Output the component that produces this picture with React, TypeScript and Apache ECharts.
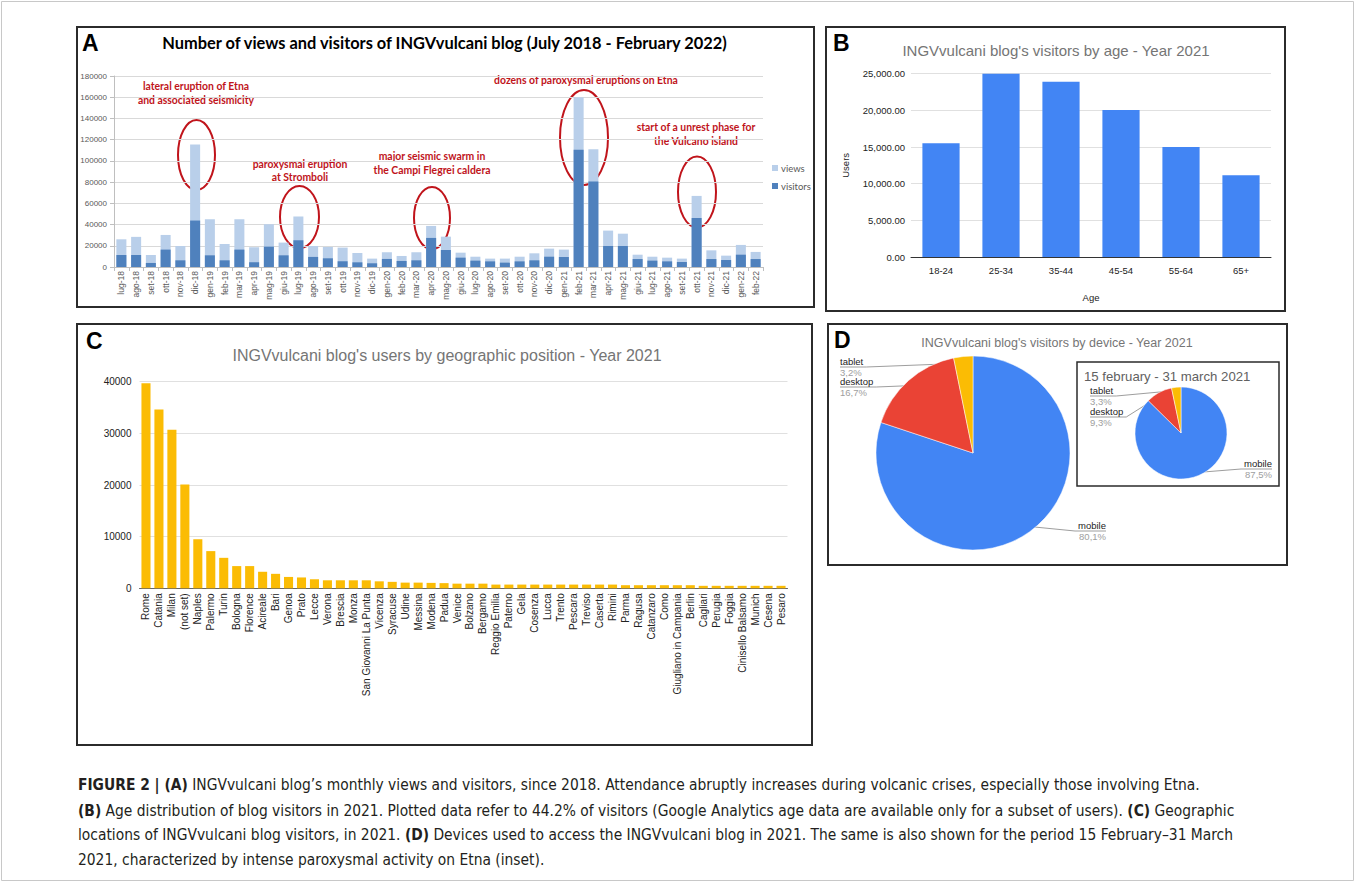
import React, { useEffect, useRef } from "react";
import * as echarts from "echarts";

// ---------- Panel A data ----------
const months = ["lug-18","ago-18","set-18","ott-18","nov-18","dic-18","gen-19","feb-19","mar-19","apr-19","mag-19","giu-19","lug-19","ago-19","set-19","ott-19","nov-19","dic-19","gen-20","feb-20","mar-20","apr-20","mag-20","giu-20","lug-20","ago-20","set-20","ott-20","nov-20","dic-20","gen-21","feb-21","mar-21","apr-21","mag-21","giu-21","lug-21","ago-21","set-21","ott-21","nov-21","dic-21","gen-22","feb-22"];
const views = [26100,28400,11300,30200,19800,115500,45000,21700,45000,18600,40300,23000,47600,19800,18900,18300,13200,7900,13900,10400,13900,38700,28600,13500,9700,7900,7900,9700,12900,17300,16400,160000,111000,34300,31400,11600,9700,8800,7900,67000,15700,10700,20800,14200];
const visitors = [11300,11300,3800,16400,6300,43800,11000,6300,16400,4400,19200,11000,25200,9500,8200,5400,4400,3500,7600,5700,6300,27400,16000,8800,6000,5300,4100,5300,6300,9700,9400,110400,80500,19800,19800,7500,6000,5300,4700,46200,7500,6600,11600,7500];

// ---------- Panel B data ----------
const ageGroups = ["18-24","25-34","35-44","45-54","55-64","65+"];
const ageUsers = [15500, 25000, 23900, 20050, 15000, 11150];

// ---------- Panel C data ----------
const cities = ["Rome","Catania","Milan","(not set)","Naples","Palermo","Turin","Bologna","Florence","Acireale","Bari","Genoa","Prato","Lecce","Verona","Brescia","Monza","San Giovanni La Punta","Vicenza","Syracuse","Udine","Messina","Modena","Padua","Venice","Bolzano","Bergamo","Reggio Emilia","Paterno","Gela","Cosenza","Lucca","Trento","Pescara","Treviso","Caserta","Rimini","Parma","Ragusa","Catanzaro","Como","Giugliano in Campania","Berlin","Cagliari","Perugia","Foggia","Cinisello Balsamo","Munich","Cesena","Pesaro"];
const cityUsers = [39700,34600,30700,20100,9500,7200,5900,4300,4300,3200,2800,2200,2100,1750,1550,1550,1550,1550,1350,1250,1100,1100,1050,1000,900,900,900,720,720,720,720,720,720,720,720,720,720,600,600,600,600,600,600,480,480,480,480,480,480,480];

// ---------- Panel D data ----------
const devices = ["mobile","desktop","tablet"];
const deviceShare2021 = [80.1, 16.7, 3.2];
const deviceShareInset = [87.5, 9.3, 3.3];
const deviceColors = ["#4285F4","#EA4335","#FBBC04"];

// ---------- caption ----------
const captionLines = [
  "{b|FIGURE 2 | (A)} INGVvulcani blog\u2019s monthly views and visitors, since 2018. Attendance abruptly increases during volcanic crises, especially those involving Etna.",
  "{b|(B)} Age distribution of blog visitors in 2021. Plotted data refer to 44.2% of visitors (Google Analytics age data are available only for a subset of users). {b|(C)} Geographic",
  "locations of INGVvulcani blog visitors, in 2021. {b|(D)} Devices used to access the INGVvulcani blog in 2021. The same is also shown for the period 15 February\u201331 March",
  "2021, characterized by intense paroxysmal activity on Etna (inset).",
];

const ARIAL = "'Liberation Sans', Arial, sans-serif";
const CAL = "Lato, 'Liberation Sans', sans-serif";
const NARROW = "'Liberation Sans Narrow', 'DejaVu Sans Condensed', sans-serif";
const RED = "#C0141B";

const pieGeom: Record<number, { cx: number; cy: number; r: number }> = {
  4: { cx: 973, cy: 453, r: 97 },
  5: { cx: 1181, cy: 433, r: 46 },
};
const pieLabelY: Record<number, number[]> = {
  4: [531, 387, 367],
  5: [469, 417, 396],
};

const pieLabelLayout = (params: any) => {
  const g = pieGeom[params.seriesIndex];
  const ys = pieLabelY[params.seriesIndex];
  if (!g || !ys || !params.labelLinePoints) return {};
  const p0 = params.labelLinePoints[0];
  const dx = p0[0] - g.cx;
  const dy = p0[1] - g.cy;
  const d = Math.hypot(dx, dy) || 1;
  const inner = [g.cx + (dx / d) * g.r * 0.93, g.cy + (dy / d) * g.r * 0.93];
  const y = ys[params.dataIndex];
  const r = params.labelRect;
  const isLeft = r.x + r.width / 2 < g.cx;
  const near = isLeft ? r.x + r.width + 3 : r.x - 3;
  const far = isLeft ? r.x : r.x + r.width;
  return { y, labelLinePoints: [inner, [near, y], [far, y]] };
};

const pct = (v: number) => v.toFixed(1).replace(".", ",") + "%";

const pieLabel = {
  show: true,
  alignTo: "edge",
  edgeDistance: 2,
  formatter: (p: any) => `{n|${p.name}}\n{p|${pct(p.value)}}`,
  rich: {
    n: { fontSize: 9.5, color: "#222", fontFamily: ARIAL, lineHeight: 11 },
    p: { fontSize: 9.5, color: "#9e9e9e", fontFamily: ARIAL, lineHeight: 11 },
  },
};

function buildOption(): any {
  const text = (x: number, y: number, t: string, o: any = {}) => ({
    type: "text",
    silent: true,
    style: { x, y, text: t, align: "center", verticalAlign: "middle", fill: "#000", fontFamily: ARIAL, fontSize: 12, ...o },
  });
  const rect = (x: number, y: number, w: number, h: number, stroke: string, lw: number) => ({
    type: "rect",
    silent: true,
    shape: { x, y, width: w, height: h },
    style: { fill: "none", stroke, lineWidth: lw },
  });
  const ell = (cx: number, cy: number, rx: number, ry: number) => ({
    type: "ellipse",
    silent: true,
    shape: { cx, cy, rx, ry },
    style: { fill: "none", stroke: RED, lineWidth: 2 },
  });
  const ann = (x: number, y: number, t: string) =>
    text(x, y, t, { fill: RED, fontFamily: CAL, fontWeight: "bold", fontSize: 10.4 });

  const graphics: any[] = [
    rect(1.5, 1.5, 1352, 879, "#c8c8c8", 1),
    rect(77, 27, 737, 280, "#2b2b2b", 2),
    rect(826, 27, 459, 284, "#2b2b2b", 2),
    rect(77, 324, 735, 421, "#2b2b2b", 2),
    rect(828, 324, 459, 241, "#2b2b2b", 2),
    rect(1077, 362, 202, 124, "#2b2b2b", 1.5),
    text(82, 43, "A", { align: "left", fontWeight: "bold", fontSize: 23 }),
    text(833, 43, "B", { align: "left", fontWeight: "bold", fontSize: 23 }),
    text(86, 341, "C", { align: "left", fontWeight: "bold", fontSize: 23 }),
    text(834, 340, "D", { align: "left", fontWeight: "bold", fontSize: 23 }),
    text(444.5, 42, "Number of views and visitors of INGVvulcani blog (July 2018 - February 2022)", { fontFamily: CAL, fontWeight: "bold", fontSize: 16.4 }),
    text(1056, 50, "INGVvulcani blog's visitors by age - Year 2021", { fill: "#757575", fontSize: 15 }),
    text(447, 355, "INGVvulcani blog's users by geographic position - Year 2021", { fill: "#757575", fontSize: 16 }),
    text(1057, 343, "INGVvulcani blog's visitors by device - Year 2021", { fill: "#757575", fontSize: 12.5 }),
    text(1084, 376, "15 february - 31 march 2021", { align: "left", fill: "#616161", fontSize: 13.2 }),
    ann(196, 86, "lateral eruption of Etna"),
    ann(196, 99.5, "and associated seismicity"),
    ann(300, 163.5, "paroxysmal eruption"),
    ann(300, 177, "at Stromboli"),
    ann(432, 156, "major seismic swarm in"),
    ann(432, 169.5, "the Campi Flegrei caldera"),
    ann(586, 79.5, "dozens of paroxysmal eruptions on Etna"),
    ann(696, 127, "start of a unrest phase for"),
    ann(696, 140.5, "the Vulcano island"),
    ell(196.5, 155, 18.5, 35),
    ell(299.5, 217, 19.5, 31),
    ell(432, 218, 18, 31),
    ell(584, 137.5, 24, 47.5),
    ell(697, 192, 19, 35.5),
  ];
  const capY = [785, 810.5, 835, 859.5];
  captionLines.forEach((t, i) => {
    graphics.push(
      text(78, capY[i], t, {
        align: "left",
        fill: "#231f20",
        fontFamily: NARROW,
        fontSize: 15.4,
        rich: { b: { fontWeight: "bold", fontFamily: NARROW, fontSize: 15.4, fill: "#231f20" } },
      })
    );
  });

  const plain = (v: number) => String(v);

  return {
    animation: false,
    backgroundColor: "#fff",
    legend: {
      data: ["views", "visitors"],
      orient: "vertical",
      left: 767,
      top: 158,
      itemWidth: 6,
      itemHeight: 6,
      itemGap: 8,
      icon: "rect",
      selectedMode: false,
      textStyle: { fontSize: 9.5, color: "#595959", fontFamily: CAL, padding: [0, 0, 0, -2] },
    },
    grid: [
      { left: 114, top: 76, width: 649, height: 191 },
      { left: 911, top: 73.7, width: 360, height: 183.3 },
      { left: 139.5, top: 381.7, width: 648, height: 206.6 },
    ],
    xAxis: [
      {
        type: "category",
        gridIndex: 0,
        data: months,
        axisLine: { lineStyle: { color: "#bfbfbf" } },
        axisTick: { show: true, length: 4, lineStyle: { color: "#bfbfbf" } },
        axisLabel: { rotate: 90, interval: 0, fontSize: 8.5, color: "#595959", fontFamily: ARIAL, margin: 4 },
      },
      {
        type: "category",
        gridIndex: 1,
        data: ageGroups,
        name: "Age",
        nameLocation: "middle",
        nameGap: 35,
        nameTextStyle: { fontSize: 9.5, color: "#222", fontFamily: ARIAL },
        axisLine: { lineStyle: { color: "#333" } },
        axisTick: { show: false },
        axisLabel: { fontSize: 9.5, color: "#222", fontFamily: ARIAL, margin: 8 },
      },
      {
        type: "category",
        gridIndex: 2,
        data: cities,
        axisLine: { lineStyle: { color: "#666" } },
        axisTick: { show: false },
        axisLabel: { rotate: 90, interval: 0, fontSize: 10, color: "#222", fontFamily: ARIAL, margin: 5 },
      },
    ],
    yAxis: [
      {
        type: "value",
        gridIndex: 0,
        min: 0,
        max: 180000,
        interval: 20000,
        axisLine: { show: true, lineStyle: { color: "#bfbfbf" } },
        axisTick: { show: true, length: 4, lineStyle: { color: "#bfbfbf" } },
        splitLine: { lineStyle: { color: "#d9d9d9" } },
        axisLabel: { fontSize: 8, color: "#595959", fontFamily: ARIAL, margin: 7, formatter: plain },
      },
      {
        type: "value",
        gridIndex: 1,
        min: 0,
        max: 25000,
        interval: 5000,
        name: "Users",
        nameLocation: "middle",
        nameGap: 61,
        nameRotate: 90,
        nameTextStyle: { fontSize: 9.5, color: "#222", fontFamily: ARIAL },
        axisLine: { show: false },
        axisTick: { show: false },
        splitLine: { lineStyle: { color: "#e0e0e0" } },
        axisLabel: {
          fontSize: 9.5,
          color: "#222",
          fontFamily: ARIAL,
          margin: 6,
          formatter: (v: number) => v.toLocaleString("en-US", { minimumFractionDigits: 2, maximumFractionDigits: 2 }),
        },
      },
      {
        type: "value",
        gridIndex: 2,
        min: 0,
        max: 40000,
        interval: 10000,
        axisLine: { show: false },
        axisTick: { show: false },
        splitLine: { lineStyle: { color: "#e0e0e0" } },
        axisLabel: { fontSize: 10, color: "#222", fontFamily: ARIAL, margin: 8, formatter: plain },
      },
    ],
    series: [
      {
        name: "views",
        type: "bar",
        xAxisIndex: 0,
        yAxisIndex: 0,
        data: views,
        barCategoryGap: "32%",
        barGap: "-100%",
        itemStyle: { color: "#B9CFEA" },
        emphasis: { disabled: true },
      },
      {
        name: "visitors",
        type: "bar",
        xAxisIndex: 0,
        yAxisIndex: 0,
        data: visitors,
        barCategoryGap: "32%",
        barGap: "-100%",
        itemStyle: { color: "#4F81BD" },
        emphasis: { disabled: true },
      },
      {
        name: "users by age",
        type: "bar",
        xAxisIndex: 1,
        yAxisIndex: 1,
        data: ageUsers,
        barCategoryGap: "38%",
        itemStyle: { color: "#4285F4" },
        emphasis: { disabled: true },
      },
      {
        name: "users by city",
        type: "bar",
        xAxisIndex: 2,
        yAxisIndex: 2,
        data: cityUsers,
        barCategoryGap: "30%",
        itemStyle: { color: "#FBBC04" },
        emphasis: { disabled: true },
      },
      {
        name: "devices 2021",
        type: "pie",
        left: 838,
        top: 340,
        width: 270,
        height: 226,
        center: ["50%", "50%"],
        radius: [0, 97],
        startAngle: 90,
        clockwise: true,
        data: devices.map((n, i) => ({ name: n, value: deviceShare2021[i], itemStyle: { color: deviceColors[i] } })),
        itemStyle: { borderColor: "#fff", borderWidth: 0.5 },
        label: pieLabel,
        labelLine: { show: true, length: 8, length2: 8, lineStyle: { color: "#9e9e9e", width: 1 } },
        labelLayout: pieLabelLayout,
        emphasis: { disabled: true },
      },
      {
        name: "devices 15 Feb - 31 Mar 2021",
        type: "pie",
        left: 1088,
        top: 380,
        width: 186,
        height: 106,
        center: ["50%", "50%"],
        radius: [0, 46],
        startAngle: 90,
        clockwise: true,
        data: devices.map((n, i) => ({ name: n, value: deviceShareInset[i], itemStyle: { color: deviceColors[i] } })),
        itemStyle: { borderColor: "#fff", borderWidth: 0.5 },
        label: pieLabel,
        labelLine: { show: true, length: 6, length2: 6, lineStyle: { color: "#9e9e9e", width: 1 } },
        labelLayout: pieLabelLayout,
        emphasis: { disabled: true },
      },
    ],
    graphic: { elements: graphics },
  };
}

export default function App() {
  const ref = useRef<HTMLDivElement>(null);
  useEffect(() => {
    document.body.style.margin = "0";
    const chart = echarts.init(ref.current!, null, { renderer: "svg" });
    chart.setOption(buildOption());
    return () => chart.dispose();
  }, []);
  return (
    <div
      ref={ref}
      style={{ position: "absolute", left: 0, top: 0, width: 1355, height: 885, background: "#fff" }}
    />
  );
}
